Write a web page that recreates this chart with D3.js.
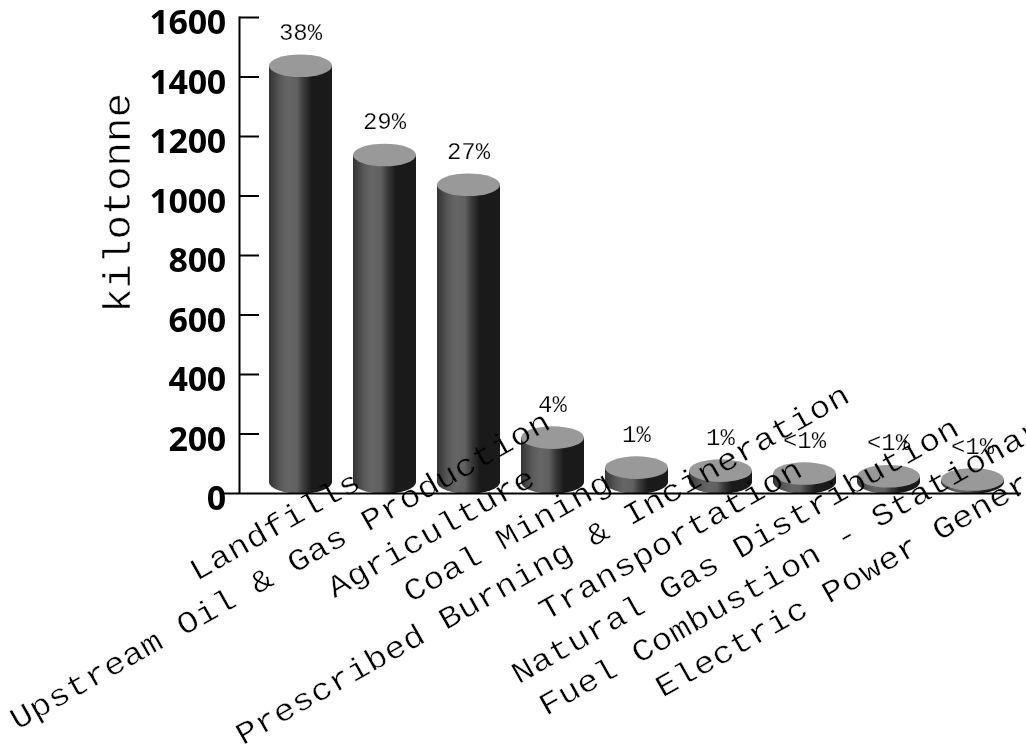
<!DOCTYPE html>
<html>
<head>
<meta charset="utf-8">
<script src="https://cdn.jsdelivr.net/npm/d3@7/dist/d3.min.js"></script>
<style>
html,body{margin:0;padding:0;background:#fff;overflow:hidden}
svg{display:block}
/* White outline eats into the glyph edges; multiply keeps it invisible on whatever lies behind */
.mono{font-family:'Liberation Mono';fill:#000;stroke:#fff;mix-blend-mode:multiply}
</style>
</head>
<body>
<svg id="chart" width="1026" height="754"></svg>
<script>
const categories = ["Landfills","Upstream Oil & Gas Production","Agriculture","Coal Mining","Prescribed Burning & Incineration","Transportation","Natural Gas Distribution","Fuel Combustion - Stationary","Electric Power Generation"];
const emissions = [1400,1100,1000,150,49,39,29,20,9];
const shares = ["38%","29%","27%","4%","1%","1%","<1%","<1%","<1%"];
const yTicks = [0,200,400,600,800,1000,1200,1400,1600];
// Extra slide of each category label along its own slant, in pixels
const labelSlide = [0,-14,-6,-15,13,-9,7,0,-6];

const svg = d3.select("#chart");
const y = d3.scaleLinear().domain([0,1600]).range([493.5,17.5]);
const x = d3.scaleBand().domain(categories).range([258.5,1014.5]).paddingInner(0.25).paddingOuter(0.125);
const ry = 11.3;
const floorY = y(0) - ry;
const topY = i => y(emissions[i]) - ry;
const midX = c => x(c) + x.bandwidth()/2;

// Horizontal shading that gives the cylinder walls their rounded look
const grad = svg.append("defs").append("linearGradient").attr("id","wall");
[[0,"#333"],[0.18,"#5a5a5a"],[0.3,"#666"],[0.44,"#606060"],[0.55,"#3a3a3a"],[0.68,"#1a1a1a"],[1,"#1a1a1a"]].forEach(([o,c])=>
  grad.append("stop").attr("offset",o).attr("stop-color",c));

// Cylinders
const bars = svg.append("g").selectAll("g").data(categories).join("g");
bars.append("path").attr("fill","url(#wall)").attr("d",(c,i)=>{
  const l = x(c), w = x.bandwidth();
  return `M${l},${topY(i)}L${l},${floorY}A${w/2},${ry} 0 0 0 ${l+w},${floorY}L${l+w},${topY(i)}Z`;
});
bars.append("ellipse")
  .attr("cx",midX)
  .attr("cy",(c,i)=>topY(i))
  .attr("rx",x.bandwidth()/2).attr("ry",ry).attr("fill","#999");

// Value axis and floor line
const axis = svg.append("g").attr("stroke","#000").attr("stroke-width",2);
axis.append("line").attr("x1",239.5).attr("x2",239.5).attr("y1",y(1600)-1).attr("y2",y(0));
axis.selectAll(".t").data(yTicks.slice(1)).join("line").attr("class","t")
  .attr("x1",239.5).attr("x2",259).attr("y1",d=>y(d)).attr("y2",d=>y(d));
axis.append("line").attr("x1",223).attr("x2",1021).attr("y1",y(0)).attr("y2",y(0));

svg.append("g").selectAll("text").data(yTicks).join("text")
  .attr("x",226).attr("y",d=>y(d)+16.5)
  .attr("text-anchor","end")
  .attr("font-family","'Noto Sans'").attr("font-weight",700).attr("font-size",34)
  .attr("letter-spacing",-0.3)
  .text(d=>d);

svg.append("text").attr("class","mono")
  .attr("transform","translate(130,203) rotate(-90) scale(1.07,1)")
  .attr("text-anchor","middle")
  .attr("font-size",38).attr("stroke-width",0.5)
  .text("kilotonne");

// Share labels above each cylinder
svg.append("g").selectAll("text").data(categories).join("text").attr("class","mono")
  .attr("x",midX)
  .attr("y",(c,i)=>topY(i)-26)
  .attr("text-anchor","middle")
  .attr("font-size",24).attr("stroke-width",0.25)
  .text((c,i)=>shares[i]);

// Slanted category labels, stretched along the baseline
const stretch = 1.14;
svg.append("g").selectAll("text").data(categories).join("text").attr("class","mono")
  .attr("font-size",31).attr("stroke-width",0.45)
  .attr("text-anchor","middle")
  .text(c=>c)
  .attr("transform",function(c,i){
    const shift = -0.18*this.getComputedTextLength();
    return `translate(${midX(c)+9},${y(0)+24}) rotate(-29.5) translate(${labelSlide[i]},0) scale(${stretch},1) translate(${shift},0)`;
  });
</script>
</body>
</html>
